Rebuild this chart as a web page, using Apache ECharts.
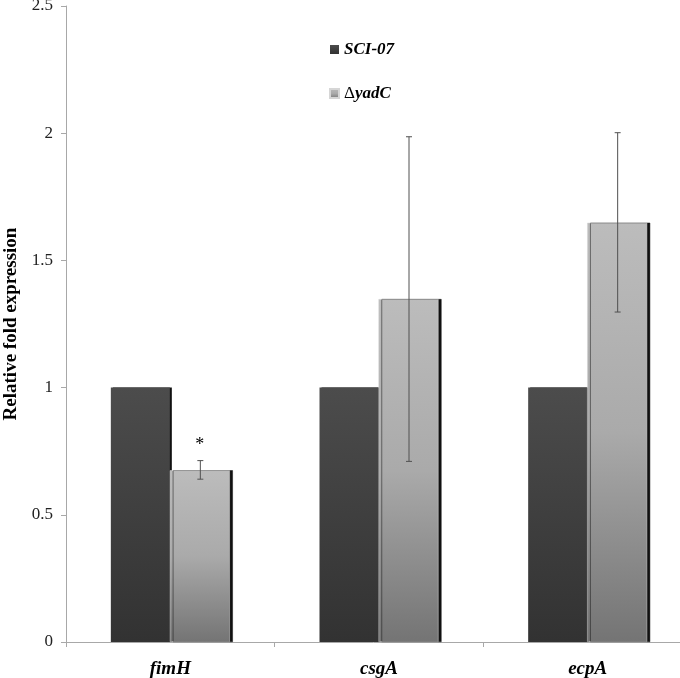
<!DOCTYPE html>
<html>
<head>
<meta charset="utf-8">
<script src="https://cdn.jsdelivr.net/npm/echarts@6/dist/echarts.min.js"></script>
<style>
  html, body { margin: 0; padding: 0; background: #fff; }
  #chart { width: 680px; height: 678px; }
</style>
</head>
<body>
<div id="chart"></div>
<script>
const genes = ['fimH', 'csgA', 'ecpA']
const wildType = [1, 1, 1]
const mutant = [0.675, 1.348, 1.648]
const mutantLow = [0.64, 0.71, 1.297]
const mutantHigh = [0.713, 1.986, 2.002]
const yTicks = [0, 0.5, 1, 1.5, 2, 2.5]

const serif = '"Liberation Serif", "DejaVu Serif", serif'

const darkFill = {
  type: 'linear', x: 0, y: 0, x2: 0, y2: 1,
  colorStops: [
    { offset: 0, color: '#4c4c4c' },
    { offset: 1, color: '#323232' },
  ],
}
const lightFill = {
  type: 'linear', x: 0, y: 0, x2: 0, y2: 1,
  colorStops: [
    { offset: 0, color: '#bcbcbc' },
    { offset: 0.5, color: '#aaaaaa' },
    { offset: 1, color: '#747474' },
  ],
}

const chart = echarts.init(document.getElementById('chart'), null, { renderer: 'canvas' })

chart.setOption({
  animation: false,
  grid: { left: 66, right: -12, top: 6, bottom: 36, containLabel: false, outerBoundsMode: 'none' },
  legend: {
    orient: 'vertical',
    left: 324,
    top: 36,
    itemGap: 27,
    itemWidth: 9,
    itemHeight: 9,
    icon: 'rect',
    data: ['SCI-07', 'yadC'],
    formatter: name => name === 'yadC' ? '{d|Δ}{i|yadC}' : '{i|SCI-07}',
    textStyle: {
      fontFamily: serif,
      rich: {
        d: { fontFamily: serif, fontSize: 17, fontWeight: 'normal', color: '#000' },
        i: { fontFamily: serif, fontSize: 17, fontWeight: 'bold', fontStyle: 'italic', color: '#000' },
      },
    },
  },
  xAxis: {
    type: 'category',
    data: genes,
    axisLine: { lineStyle: { color: '#a8a8a8' } },
    axisTick: { show: true, length: 5, lineStyle: { color: '#a8a8a8' } },
    axisLabel: {
      margin: 18,
      fontFamily: serif, fontSize: 19, fontWeight: 'bold', fontStyle: 'italic', color: '#000',
    },
  },
  yAxis: {
    type: 'value',
    min: 0, max: 2.5, interval: 0.5,
    name: 'Relative fold expression',
    nameLocation: 'middle',
    nameGap: 40,
    nameTextStyle: { fontFamily: serif, fontSize: 19, fontWeight: 'bold', color: '#000' },
    axisLine: { show: true, lineStyle: { color: '#a8a8a8' } },
    axisTick: { show: true, length: 5, lineStyle: { color: '#a8a8a8' } },
    splitLine: { show: false },
    axisLabel: {
      margin: 13,
      fontFamily: serif, fontSize: 17, color: '#222',
      formatter: v => yTicks.includes(v) ? String(v) : '',
    },
  },
  series: [
    {
      name: 'SCI-07',
      type: 'bar',
      data: wildType,
      barWidth: 59,
      barGap: '0%',
      itemStyle: {
        color: darkFill,
        shadowColor: '#111', shadowOffsetX: 2, shadowBlur: 0,
      },
    },
    {
      name: 'yadC',
      type: 'bar',
      data: mutant,
      barWidth: 60,
      itemStyle: {
        color: lightFill,
        borderColor: '#d6d6d6', borderWidth: 0.5,
        shadowColor: '#111', shadowOffsetX: 3, shadowBlur: 0,
      },
      label: {
        show: true,
        position: 'top',
        distance: 16,
        formatter: p => p.dataIndex === 0 ? '*' : '',
        fontFamily: serif, fontSize: 18, color: '#000',
      },
      z: 3,
    },
    {
      name: 'err',
      type: 'custom',
      z: 5,
      data: genes.map((g, i) => [i, mutantLow[i], mutantHigh[i]]),
      renderItem: (params, api) => {
        const lo = api.coord([api.value(0), api.value(1)])
        const hi = api.coord([api.value(0), api.value(2)])
        const x = lo[0] + 30
        const half = 3
        const style = { stroke: '#505050', lineWidth: 1 }
        return {
          type: 'group',
          children: [
            { type: 'line', shape: { x1: x, y1: lo[1], x2: x, y2: hi[1] }, style },
            { type: 'line', shape: { x1: x - half, y1: lo[1], x2: x + half, y2: lo[1] }, style },
            { type: 'line', shape: { x1: x - half, y1: hi[1], x2: x + half, y2: hi[1] }, style },
          ],
        }
      },
    },
  ],
})
</script>
</body>
</html>
